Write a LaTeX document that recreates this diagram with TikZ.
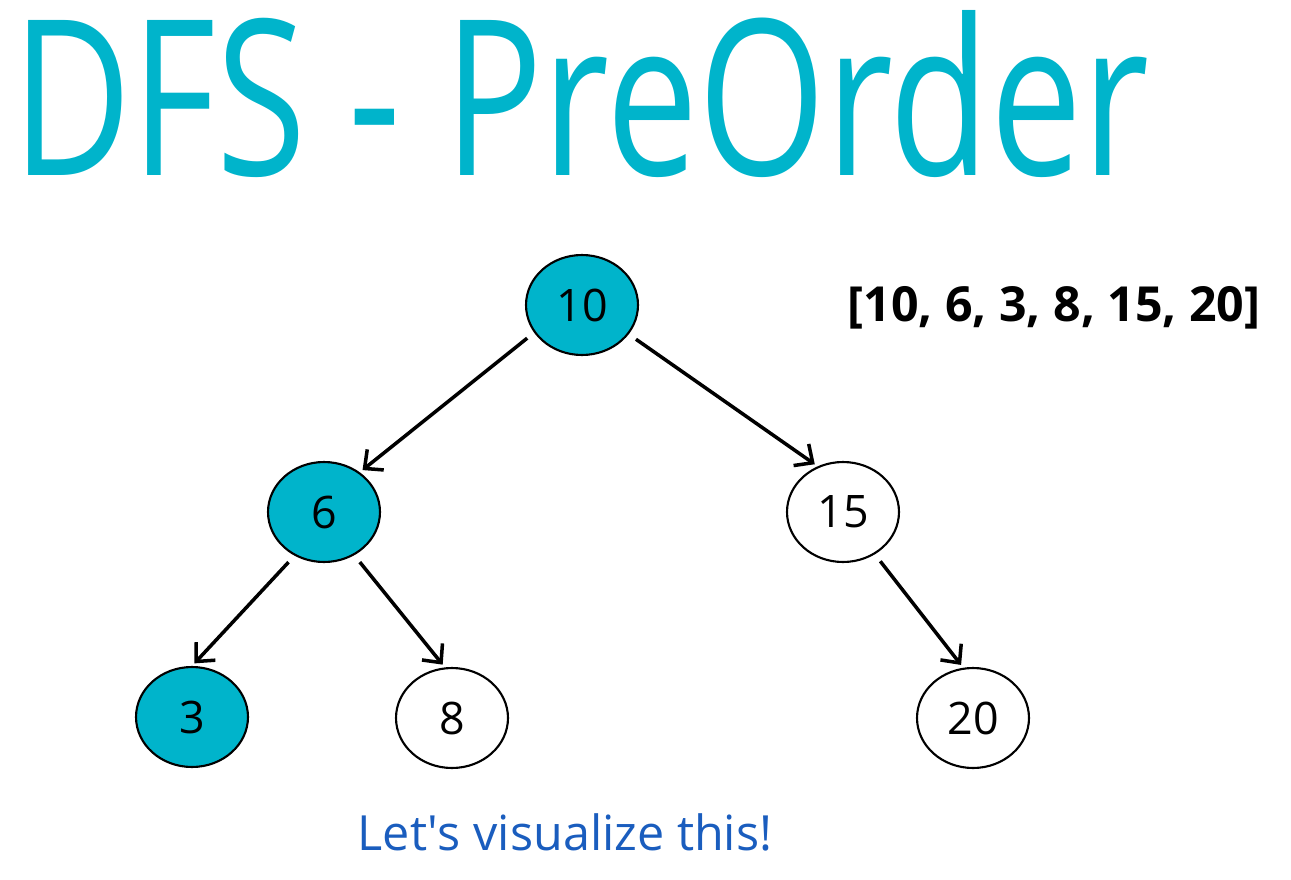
\documentclass[tikz,border=0pt]{standalone}
\usepackage{fontspec}
\setmainfont{Open Sans}
\usepackage{graphicx}
\usetikzlibrary{arrows.meta,shapes.geometric}
\definecolor{dfsteal}{HTML}{00B4CB}
\definecolor{hintblue}{HTML}{1A5DBE}

\begin{document}
\begin{tikzpicture}[x=0.02cm, y=-0.02cm,
        tree/.style={ellipse, draw, line width=1.2pt, minimum width=2.24cm, minimum height=2cm, inner sep=0pt, font=\fontsize{25.5}{30}\selectfont},
        visited/.style={tree, fill=dfsteal},
        link/.style={-{Straight Barb[length=8pt,width=15pt,line width=2pt]}, line width=2pt, shorten <=5pt, shorten >=2pt}]
        \useasboundingbox (0,0) rectangle (1291,879);
        \node[anchor=base west, inner sep=0pt, text=dfsteal] (title) at (12,175) {\resizebox{22.72cm}{3.3cm}{DFS - PreOrder}};

        \node[visited] (n10) at (582,305) {10};
        \node[visited] (n6) at (324,512) {6};
        \node[tree] (n15) at (843,512) {15};
        \node[visited] (n3) at (192,717) {3};
        \node[tree] (n8) at (452,718) {8};
        \node[tree] (n20) at (973,718) {20};

        \draw[link] (n10.210) -- (n6.48);
        \draw[link] (n10.-32) -- (n15.119);
        \draw[link] (n6.236) -- (n3.90);
        \draw[link] (n6.-55) -- (n8.98);
        \draw[link] (n15.-53) -- (n20.101);

        \node[font=\bfseries\fontsize{27.5}{32}\selectfont] (order) at (1054,308) {[10, 6, 3, 8, 15, 20]};
        \node[text=hintblue, font=\fontsize{27.6}{32}\selectfont] (hint) at (565,832) {Let\textquotesingle s visualize this!};
    \end{tikzpicture}
\end{document}
